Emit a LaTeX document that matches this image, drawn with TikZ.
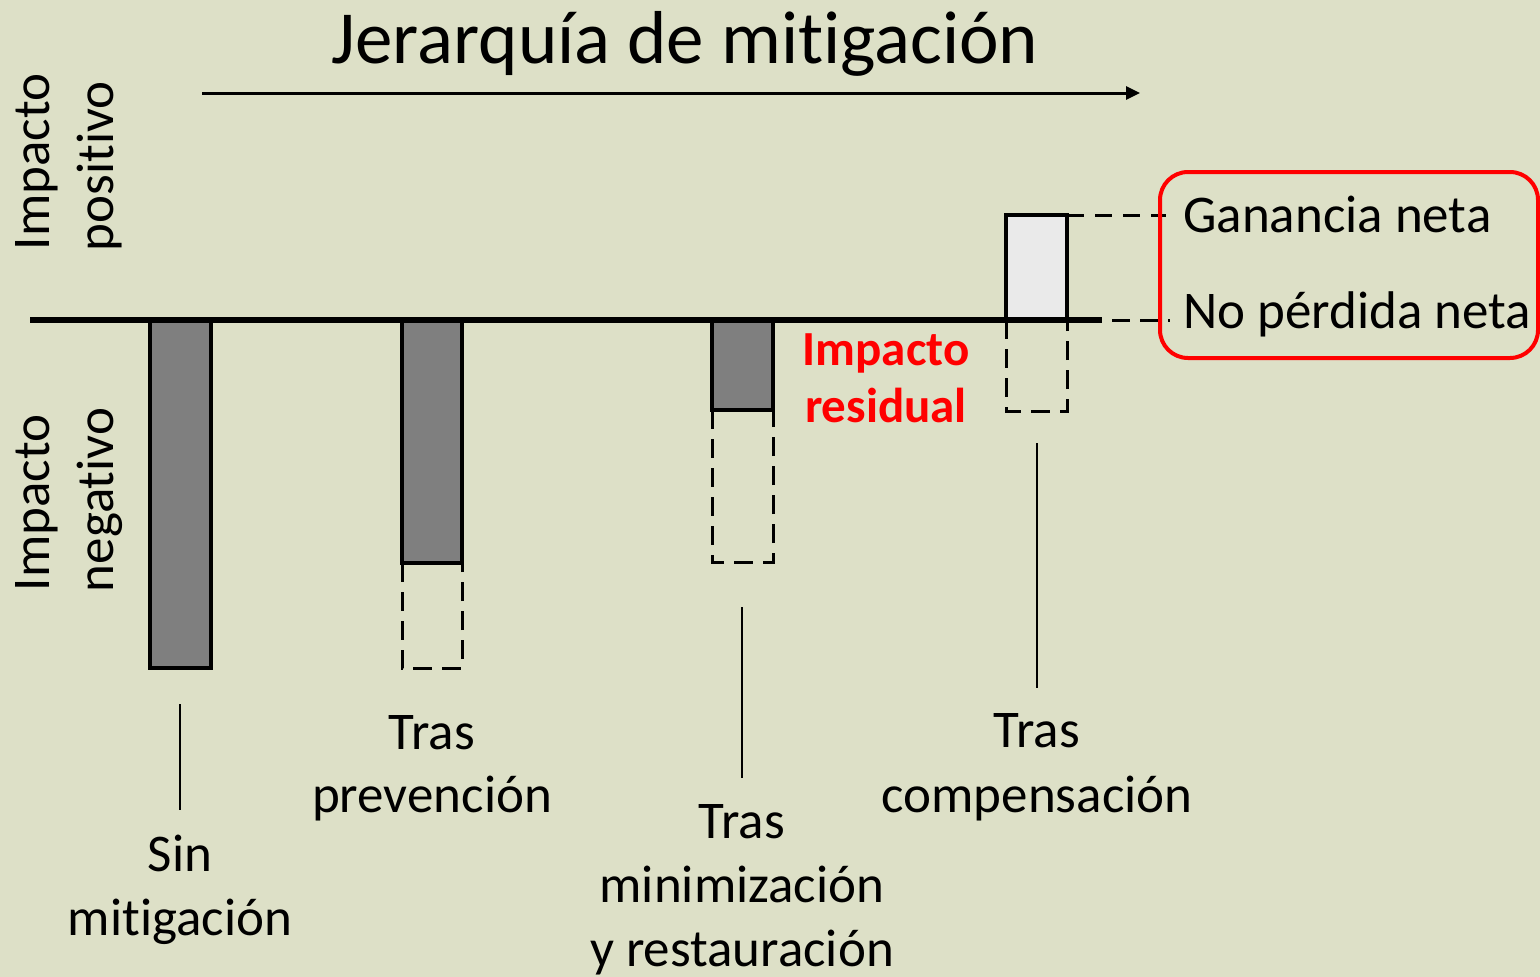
\documentclass[tikz,border=0pt]{standalone}
\usepackage{fontspec}
\setmainfont{Carlito}[Ligatures={NoCommon}]
\usetikzlibrary{arrows.meta}
\definecolor{bg}{RGB}{221,224,199}
\definecolor{bargray}{RGB}{127,127,127}
\definecolor{boxlight}{RGB}{234,234,234}
\definecolor{hired}{RGB}{255,0,0}
\begin{document}
\begin{tikzpicture}[x=1pt,y=-1pt,
  lbl/.style={font=\fontsize{53}{63}\selectfont, anchor=base, inner sep=0pt},
  rlbl/.style={lbl, rotate=90},
  redlbl/.style={font=\fontsize{49}{57}\selectfont\bfseries, text=hired, anchor=base, inner sep=0pt},
  titlelbl/.style={font=\fontsize{75}{90}\selectfont, anchor=base, inner sep=0pt},
  solidbar/.style={fill=bargray, draw=black, line width=3.5pt},
  posbar/.style={fill=boxlight, draw=black, line width=3.5pt},
  dashbar/.style={draw=black, line width=3pt, dash pattern=on 19pt off 10pt},
  guide/.style={draw=black, line width=2.5pt},
  axisline/.style={draw=black, line width=6pt},
  dashguide/.style={draw=black, line width=3pt}]
\fill[bg] (0,0) rectangle (1540,977);
\useasboundingbox (0,0) rectangle (1540,977);

% title and arrow
\node[titlelbl] (title) at (685,63) {Jerarquía de mitigación};
\coordinate (arrS) at (202,93);
\coordinate (arrE) at (1140,93);
\draw[line width=3pt, -{Triangle[length=14pt,width=13pt]}] (arrS) -- (arrE);

% rotated side labels
\node[rlbl] (pos1) at (49,162) {Impacto};
\node[rlbl] (pos2) at (113,166) {positivo};
\node[rlbl] (neg1) at (49,503) {Impacto};
\node[rlbl] (neg2) at (113,500) {negativo};

% bars
\path[solidbar] (150,320) rectangle (211,668);
\path[solidbar] (402,320) rectangle (462,563);
\draw[dashbar] (402,563) -- (402,668) -- (462,668) -- (462,563);
\path[solidbar] (712,320) rectangle (773,410);
\draw[dashbar] (712,410) -- (712,562) -- (773,562) -- (773,410);
\path[posbar] (1006,215) rectangle (1067,320);
\draw[dashbar] (1006,320) -- (1006,411) -- (1067,411) -- (1067,320);

% axis
\coordinate (axL) at (30,320);
\coordinate (axR) at (1102,320);
\draw[axisline] (axL) -- (axR);

% dashed leaders to the box
\coordinate (gTop) at (1067,215);
\coordinate (gTopE) at (1166,215);
\coordinate (gBotE) at (1170,320);
\draw[dashguide, dash pattern=on 17pt off 11pt] (gTop) -- (gTopE);
\draw[dashguide, dash pattern=on 18pt off 10pt, dash phase=18pt] (axR) -- (gBotE);

% red box and its texts
\draw[hired, line width=4pt, rounded corners=28pt] (1160,172) rectangle (1538,358);
\node[lbl, anchor=base west] (gain) at (1183,232) {Ganancia neta};
\node[lbl, anchor=base west] (nonet) at (1183,328) {No pérdida neta};

% residual impact
\node[redlbl] (res1) at (886,365) {Impacto};
\node[redlbl] (res2) at (886,422) {residual};

% guide lines
\coordinate (l1a) at (180,704); \coordinate (l1b) at (180,810);
\coordinate (l3a) at (742,607); \coordinate (l3b) at (742,778);
\coordinate (l4a) at (1037,443); \coordinate (l4b) at (1037,688);
\draw[guide] (l1a) -- (l1b);
\draw[guide] (l3a) -- (l3b);
\draw[guide] (l4a) -- (l4b);

% stage labels
\node[lbl] (sin1) at (180,871) {Sin};
\node[lbl] (sin2) at (180,935) {mitigación};
\node[lbl] (pre1) at (432,749) {Tras};
\node[lbl] (pre2) at (432,812) {prevención};
\node[lbl] (min1) at (742,838) {Tras};
\node[lbl] (min2) at (742,902) {minimización};
\node[lbl] (min3) at (742,966) {y restauración};
\node[lbl] (com1) at (1037,747) {Tras};
\node[lbl] (com2) at (1037,812) {compensación};
\end{tikzpicture}
\end{document}
